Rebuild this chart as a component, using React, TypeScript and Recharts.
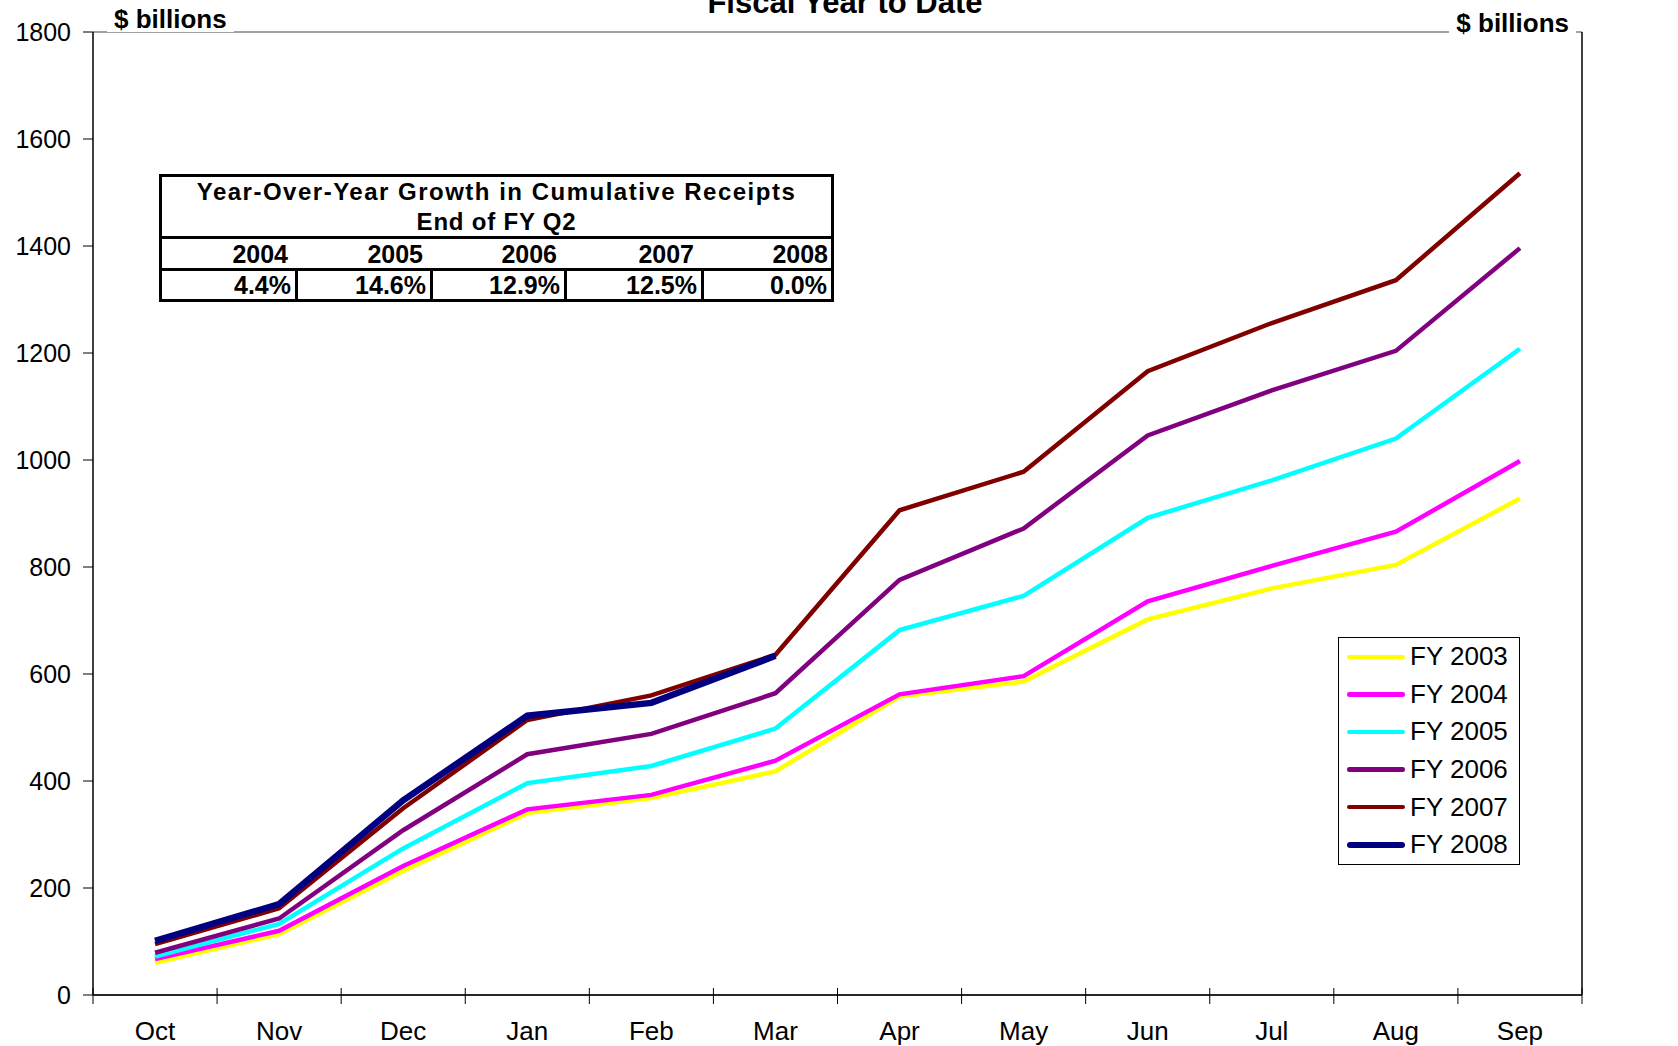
import { CartesianGrid, Legend, Line, LineChart, XAxis, YAxis } from 'recharts'

// cumulative receipts, $ billions, fiscal year to date
const MONTHS = ['Oct', 'Nov', 'Dec', 'Jan', 'Feb', 'Mar', 'Apr', 'May', 'Jun', 'Jul', 'Aug', 'Sep']
const FY2003 = [60, 114, 232, 340, 368, 418, 558, 586, 702, 760, 804, 928]
const FY2004 = [67, 120, 241, 347, 374, 438, 562, 596, 736, 802, 866, 998]
const FY2005 = [72, 133, 274, 396, 428, 498, 682, 746, 892, 962, 1040, 1208]
const FY2006 = [79, 143, 308, 450, 488, 564, 776, 872, 1046, 1130, 1204, 1396]
const FY2007 = [95, 162, 349, 514, 560, 636, 906, 978, 1166, 1256, 1336, 1536]
const FY2008 = [101, 170, 364, 522, 546, 634]

const Y_TICKS = [0, 200, 400, 600, 800, 1000, 1200, 1400, 1600, 1800]
const X_BOUNDS = [0, 1, 2, 3, 4, 5, 6, 7, 8, 9, 10, 11, 12]

const GROWTH_YEARS = ['2004', '2005', '2006', '2007', '2008']
const GROWTH_VALUES = ['4.4%', '14.6%', '12.9%', '12.5%', '0.0%']

const SERIES = [
  { key: 'fy2003', name: 'FY 2003', color: '#ffff00', width: 4.5 },
  { key: 'fy2004', name: 'FY 2004', color: '#ff00ff', width: 4.5 },
  { key: 'fy2005', name: 'FY 2005', color: '#00ffff', width: 4.5 },
  { key: 'fy2006', name: 'FY 2006', color: '#800080', width: 4.5 },
  { key: 'fy2007', name: 'FY 2007', color: '#800000', width: 4.5 },
  { key: 'fy2008', name: 'FY 2008', color: '#000080', width: 6.5 },
]

const data = MONTHS.map((month, i) => ({
  x: i + 0.5,
  month,
  fy2003: FY2003[i],
  fy2004: FY2004[i],
  fy2005: FY2005[i],
  fy2006: FY2006[i],
  fy2007: FY2007[i],
  fy2008: FY2008[i],
}))

const W = 1678
const H = 1046
const LEFT = 93
const RIGHT = 96
const BAND = (W - LEFT - RIGHT) / MONTHS.length
const FONT = '"Liberation Sans", Arial, sans-serif'

// tick marks sit on the month boundaries, labels in the middle of each month
function MonthTick(props: any) {
  const { x, y, payload } = props
  const i = payload.value as number
  return (
    <g>
      <line x1={x} x2={x} y1={y - 7} y2={y + 9} stroke="#000" strokeWidth={1} />
      {i < MONTHS.length && (
        <text x={x + BAND / 2} y={y + 45} textAnchor="middle" fontSize={26} fill="#000" fontFamily={FONT}>
          {MONTHS[i]}
        </text>
      )}
    </g>
  )
}

function LegendBox() {
  return (
    <div
      style={{
        width: 182,
        height: 228,
        border: '1px solid #000',
        boxSizing: 'border-box',
        background: '#fff',
        fontFamily: FONT,
      }}
    >
      {SERIES.map((s) => (
        <div key={s.key} style={{ height: 37.6, display: 'flex', alignItems: 'center' }}>
          <div
            style={{
              marginLeft: 8,
              width: 58,
              height: s.width,
              borderRadius: s.width / 2,
              background: s.color,
            }}
          />
          <span style={{ marginLeft: 5, fontSize: 26, color: '#000' }}>{s.name}</span>
        </div>
      ))}
    </div>
  )
}

const COL_W = [136, 135, 134, 137, 127]

function GrowthTable() {
  return (
    <div
      style={{
        position: 'absolute',
        left: 159,
        top: 174,
        width: 675,
        border: '3px solid #000',
        boxSizing: 'border-box',
        background: '#fff',
        fontFamily: FONT,
        fontWeight: 'bold',
        fontSize: 25,
        color: '#000',
      }}
    >
      <div style={{ height: 59, textAlign: 'center', lineHeight: '30px', fontSize: 24 }}>
        <div style={{ letterSpacing: 1.5, whiteSpace: 'nowrap' }}>Year-Over-Year Growth in Cumulative Receipts</div>
        <div style={{ letterSpacing: 0.8 }}>End of FY Q2</div>
      </div>
      <div style={{ display: 'flex', borderTop: '3px solid #000', height: 29 }}>
        {GROWTH_YEARS.map((yr, i) => (
          <div
            key={yr}
            style={{
              width: COL_W[i],
              boxSizing: 'border-box',
              textAlign: 'right',
              paddingRight: i < GROWTH_YEARS.length - 1 ? 10 : 3,
              lineHeight: '30px',
            }}
          >
            {yr}
          </div>
        ))}
      </div>
      <div style={{ display: 'flex', borderTop: '3px solid #000', height: 28 }}>
        {GROWTH_VALUES.map((v, i) => (
          <div
            key={i}
            style={{
              width: COL_W[i],
              boxSizing: 'border-box',
              textAlign: 'right',
              paddingRight: 4,
              lineHeight: '28px',
              borderRight: i < GROWTH_VALUES.length - 1 ? '3px solid #000' : 'none',
            }}
          >
            {v}
          </div>
        ))}
      </div>
    </div>
  )
}

const unitStyle = {
  position: 'absolute' as const,
  background: '#fff',
  fontFamily: FONT,
  fontWeight: 'bold' as const,
  fontSize: 26,
  lineHeight: '26px',
  padding: '0 7px',
  color: '#000',
}

export default function App() {
  return (
    <div style={{ position: 'absolute', left: 0, top: 0, width: W, height: H, background: '#fff', overflow: 'hidden' }}>
      <LineChart width={W} height={H} data={data} margin={{ top: 32, right: 0, bottom: 0, left: 0 }}>
        <CartesianGrid vertical={false} stroke="#808080" strokeWidth={1.5} />
        <XAxis
          dataKey="x"
          type="number"
          domain={[0, 12]}
          ticks={X_BOUNDS}
          interval={0}
          height={51}
          tickSize={0}
          tickMargin={0}
          tickLine={false}
          tick={<MonthTick />}
          axisLine={{ stroke: '#000', strokeWidth: 1.5 }}
        />
        <YAxis
          yAxisId="left"
          orientation="left"
          width={LEFT}
          domain={[0, 1800]}
          ticks={Y_TICKS}
          interval={0}
          tickSize={10}
          tickMargin={12}
          tickLine={{ stroke: '#000' }}
          axisLine={{ stroke: '#000', strokeWidth: 1.5 }}
          tick={{ fontSize: 25, fill: '#000', fontFamily: FONT }}
        />
        <YAxis
          yAxisId="right"
          orientation="right"
          width={RIGHT}
          domain={[0, 1800]}
          ticks={Y_TICKS}
          interval={0}
          tickSize={10}
          tickMargin={4}
          tickLine={{ stroke: '#000' }}
          axisLine={{ stroke: '#000', strokeWidth: 1.5 }}
          tick={{ fontSize: 25, fill: '#000', fontFamily: FONT }}
        />
        {SERIES.map((s) => (
          <Line
            key={s.key}
            yAxisId="left"
            type="linear"
            dataKey={s.key}
            name={s.name}
            stroke={s.color}
            strokeWidth={s.width}
            dot={false}
            activeDot={false}
            isAnimationActive={false}
          />
        ))}
        <Legend
          layout="vertical"
          align="center"
          verticalAlign="middle"
          content={() => <LegendBox />}
          wrapperStyle={{ left: 1338, top: 637, width: 182, height: 228 }}
        />
      </LineChart>

      <div
        style={{
          position: 'absolute',
          left: 845,
          top: -13,
          transform: 'translateX(-50%)',
          fontFamily: FONT,
          fontWeight: 'bold',
          fontSize: 31,
          lineHeight: '31px',
          whiteSpace: 'nowrap',
        }}
      >
        Fiscal Year to Date
      </div>
      <div style={{ ...unitStyle, left: 107, top: 6 }}>$ billions</div>
      <div style={{ ...unitStyle, right: 1678 - 1576, top: 10 }}>$ billions</div>
      <GrowthTable />
    </div>
  )
}
